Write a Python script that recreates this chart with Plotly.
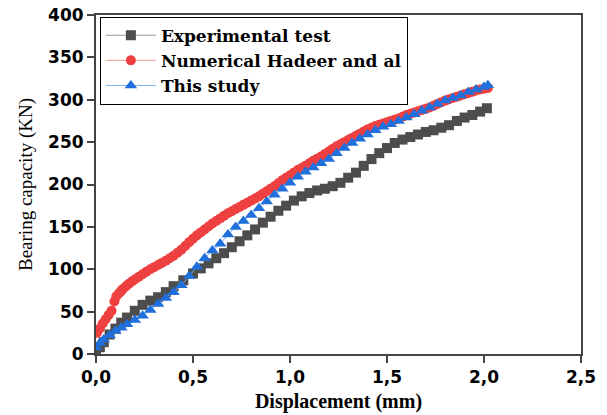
import plotly.graph_objects as go

# Experimental test (gray squares)
exp_x = [0.00, 0.02, 0.04, 0.07, 0.10, 0.13, 0.16, 0.20, 0.24, 0.28, 0.32, 0.36, 0.40, 0.45,
         0.50, 0.54, 0.58, 0.62, 0.66, 0.70, 0.74, 0.78, 0.82, 0.86, 0.90, 0.94, 0.98, 1.02,
         1.06, 1.10, 1.14, 1.18, 1.22, 1.26, 1.30, 1.34, 1.38, 1.42, 1.46, 1.50, 1.54, 1.58,
         1.62, 1.66, 1.70, 1.74, 1.78, 1.82, 1.86, 1.90, 1.94, 1.98, 2.015]
exp_y = [3, 8, 14, 23, 30, 37, 43, 51, 58, 63, 67, 73, 80, 87,
         95, 101, 107, 113, 119, 126, 133, 140, 147, 155, 162, 169, 175, 181,
         186, 190, 193, 195, 198, 202, 208, 214, 222, 230, 237, 243, 249, 253,
         256, 259, 262, 264, 267, 270, 275, 279, 282, 286, 290]

# Numerical Hadeer and al (red circles)
num_x = [0.005, 0.02, 0.035, 0.05, 0.065, 0.08, 0.095, 0.105, 0.12, 0.13, 0.14, 0.155, 0.17,
         0.185, 0.20, 0.22, 0.24, 0.26, 0.28, 0.30, 0.32, 0.34, 0.36, 0.38, 0.40, 0.42, 0.44,
         0.46, 0.48, 0.50, 0.52, 0.54, 0.56, 0.58, 0.60, 0.62, 0.64, 0.66, 0.68, 0.70, 0.72,
         0.74, 0.76, 0.78, 0.80, 0.82, 0.84, 0.86, 0.88, 0.90, 0.92, 0.94, 0.96, 0.98, 1.00,
         1.02, 1.04, 1.06, 1.08, 1.10, 1.12, 1.14, 1.16, 1.18, 1.20, 1.22, 1.24, 1.26, 1.28,
         1.30, 1.32, 1.34, 1.36, 1.38, 1.40, 1.42, 1.44, 1.46, 1.48, 1.50, 1.52, 1.54, 1.56,
         1.58, 1.60, 1.62, 1.64, 1.66, 1.68, 1.70, 1.72, 1.74, 1.76, 1.78, 1.80, 1.82, 1.84,
         1.86, 1.88, 1.90, 1.92, 1.94, 1.96, 1.98, 2.00, 2.02]
num_y = [25, 30, 36, 41, 46, 51, 62, 68, 72, 74.5, 77, 80, 83,
         85.5, 88, 91, 94, 97, 100, 102.5, 105, 107.5, 110, 113, 116, 119.5, 123,
         127.5, 132, 136, 140, 143.5, 147, 150.5, 154, 157, 160, 163, 166, 168.5, 171,
         173.5, 176, 178.5, 181, 183.5, 186, 189, 192, 195, 198, 201.5, 205, 208, 211,
         214, 217, 219.5, 222, 225, 228, 230.5, 233, 236, 239, 242, 245, 247.5, 250,
         252.5, 255, 257.5, 260, 262.5, 265, 267, 269, 270.5, 272, 273.5, 275, 276.5, 278,
         280, 282, 283.5, 285, 286.5, 288, 289.5, 291, 293, 295, 297, 299, 300.5, 302,
         303.5, 305, 306.5, 308, 309.5, 311, 312, 313, 314]

# This study (blue triangles)
st_x = [0.00, 0.02, 0.04, 0.07, 0.10, 0.13, 0.16, 0.20, 0.24, 0.28, 0.32, 0.36, 0.40, 0.44,
        0.48, 0.52, 0.56, 0.60, 0.64, 0.68, 0.72, 0.76, 0.80, 0.84, 0.88, 0.92, 0.96, 1.00,
        1.04, 1.08, 1.12, 1.16, 1.20, 1.24, 1.28, 1.32, 1.36, 1.40, 1.44, 1.48, 1.52, 1.56,
        1.60, 1.64, 1.68, 1.72, 1.76, 1.80, 1.84, 1.88, 1.92, 1.96, 2.00, 2.02]
st_y = [8, 13, 17, 22, 27, 31, 35, 40, 45, 52, 59, 66, 73, 81,
        92, 103, 113, 122, 130, 141, 150, 157, 164, 172, 180, 188, 195, 202,
        209, 215, 220, 225, 230, 237, 243, 249, 254, 259, 264, 268, 271, 275,
        279, 283, 287, 291, 295, 299, 302, 305, 309, 312, 315, 317]

x_ticks = [0.0, 0.5, 1.0, 1.5, 2.0, 2.5]
y_ticks = [0, 50, 100, 150, 200, 250, 300, 350, 400]

fig = go.Figure()
fig.add_trace(go.Scatter(
    x=exp_x, y=exp_y, name="Experimental test", mode="lines+markers",
    line=dict(color="#9a9a9a", width=1),
    marker=dict(symbol="square", size=10, color="#4d4d4d"),
))
fig.add_trace(go.Scatter(
    x=num_x, y=num_y, name="Numerical Hadeer and al", mode="lines+markers",
    line=dict(color="#f29a9a", width=1),
    marker=dict(symbol="circle", size=10, color="#ee4040"),
))
fig.add_trace(go.Scatter(
    x=st_x, y=st_y, name="This study", mode="lines+markers",
    line=dict(color="#7fb0ee", width=1),
    marker=dict(symbol="triangle-up", size=11, color="#1f6fdc"),
))

axis_common = dict(
    showline=True, linecolor="#444444", linewidth=2, mirror=True,
    ticks="outside", ticklen=7, tickwidth=1.5, tickcolor="#444444",
    showgrid=False, zeroline=False, automargin=False,
    tickfont=dict(family="DejaVu Sans", size=17, color="black", weight="bold"),
)

fig.update_xaxes(
    range=[0, 2.5], tickvals=x_ticks, tickformat=".1f",
    title=dict(text="<b>Displacement (mm)</b>",
               font=dict(family="Liberation Serif", size=20, color="black"), standoff=8),
    **axis_common,
)
fig.update_yaxes(
    range=[0, 400], tickvals=y_ticks,
    title=dict(text="Bearing capacity (KN)",
               font=dict(family="Liberation Serif", size=19, color="black"), standoff=10),
    **axis_common,
)

fig.update_layout(
    width=607, height=415,
    margin=dict(l=96, r=26, t=15, b=61),
    paper_bgcolor="white", plot_bgcolor="white",
    separators=",.",
    showlegend=True,
    legend=dict(
        x=0.008, y=0.995, xanchor="left", yanchor="top",
        bgcolor="white", bordercolor="black", borderwidth=1,
        font=dict(family="DejaVu Serif", size=17, color="black", weight="bold"),
        itemwidth=50, tracegroupgap=0,
    ),
)

fig.write_html("out.html")
